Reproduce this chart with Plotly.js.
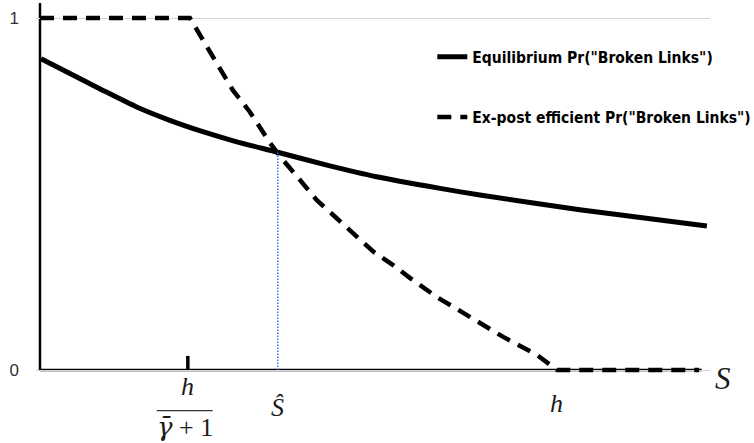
<!DOCTYPE html>
<html>
<head>
<meta charset="utf-8">
<script src="https://cdn.plot.ly/plotly-3.0.1.min.js"></script>
<style>html,body{margin:0;padding:0;background:#fff;}#chart{width:754px;height:443px;}</style>
</head>
<body>
<div id="chart"></div>
<script>
// ---- data (S measured in units of h; h = 1) ----
const seriesNames = ['Equilibrium Pr("Broken Links")', 'Ex-post efficient Pr("Broken Links")'];
const eqS   = [0.002, 0.057, 0.121, 0.186, 0.250, 0.315, 0.379, 0.456, 0.555, 0.651, 0.774, 0.851, 1.044, 1.290];
const eqPr  = [0.884, 0.843, 0.795, 0.748, 0.710, 0.677, 0.649, 0.620, 0.582, 0.549, 0.516, 0.497, 0.455, 0.409];
const effS  = [0.000, 0.290, 0.373, 0.406, 0.445, 0.4675, 0.503, 0.535, 0.574, 0.613, 0.645, 0.683, 0.716, 0.768, 0.832, 0.896, 0.961, 1.000, 1.275];
const effPr = [1.000, 1.000, 0.795, 0.733, 0.645, 0.601, 0.540, 0.483, 0.431, 0.379, 0.336, 0.298, 0.261, 0.207, 0.151, 0.094, 0.043, 0.000, 0.000];
const hVal = 1.0;            // h
const hOverGamma = 0.286;    // h / (gamma_bar + 1)
const sHat = 0.460;          // S-hat (crossing point)
const sHatPr = 0.619;        // Pr at crossing
const yTickVals = [0, 1];
const yTickText = ['0', '1'];
const xAxisEnd = 1.28;
const yAxisTop = 1.0426;

const mathFont = {family: '"Liberation Serif", "DejaVu Serif", serif', size: 26, color: '#1a1a1a'};

const traces = [
  {x: eqS, y: eqPr, type: 'scatter', mode: 'lines', name: seriesNames[0],
   line: {color: '#000', width: 5, shape: 'spline', smoothing: 0.6}, legendgroup: 'a'},
  {x: effS, y: effPr, type: 'scatter', mode: 'lines', name: seriesNames[1],
   line: {color: '#000', width: 4.5, dash: '14px,9px'}, legendgroup: 'b'},
  {x: [sHat, sHat], y: [0, sHatPr], type: 'scatter', mode: 'lines', showlegend: false,
   line: {color: '#2a6ee0', width: 1.4, dash: '1.5px,1.5px'}, hoverinfo: 'skip'}
];

const layout = {
  width: 754, height: 443,
  margin: {l: 36, r: 44, t: 3, b: 68, autoexpand: false},
  paper_bgcolor: '#fff', plot_bgcolor: '#fff',
  showlegend: true,
  legend: {x: 0.588, y: 0.9, xanchor: 'left', yanchor: 'top',
           bgcolor: 'rgba(0,0,0,0)', traceorder: 'grouped', tracegroupgap: 37,
           font: {family: '"DejaVu Sans Condensed", "DejaVu Sans", sans-serif', size: 15.5, weight: 'bold', color: '#000'}},
  xaxis: {range: [-0.0077, 1.296], showgrid: false, zeroline: false, showline: false,
          showticklabels: false, ticks: ''},
  yaxis: {range: [-0.0142, 1.0426], showgrid: true, gridcolor: '#d4d4d4', gridwidth: 1,
          zeroline: false, showline: false, tickvals: yTickVals, ticktext: yTickText, ticks: '',
          ticklabelstandoff: 16,
          tickfont: {family: '"Liberation Sans", "Open Sans", sans-serif', size: 17, color: '#333'}},
  shapes: [
    {type: 'line', xref: 'x', yref: 'y', x0: 0, x1: 0, y0: 0, y1: yAxisTop, line: {color: '#000', width: 2.5}, layer: 'below'},
    {type: 'line', xref: 'x', yref: 'y', x0: 0, x1: xAxisEnd, y0: 0, y1: 0, line: {color: '#000', width: 2.5}, layer: 'below'},
    {type: 'line', xref: 'x', yref: 'y', x0: hOverGamma, x1: hOverGamma, y0: 0, y1: 0.04, line: {color: '#000', width: 3.5}},
    {type: 'line', xref: 'x', yref: 'paper', x0: hOverGamma - 0.060, x1: hOverGamma + 0.048, y0: -0.096, y1: -0.096, line: {color: '#333', width: 1.2}}
  ],
  annotations: [
    {xref: 'x', yref: 'paper', x: hOverGamma, y: -0.032, text: '<i>h</i>', showarrow: false, font: mathFont, yanchor: 'middle'},
    {xref: 'x', yref: 'paper', x: hOverGamma - 0.006, y: -0.14,
     text: '<span style="font-family:\'DejaVu Serif\'"><i>γ̄</i></span> + 1', showarrow: false, font: mathFont, yanchor: 'middle'},
    {xref: 'x', yref: 'paper', x: sHat, y: -0.087, text: '<i>Ŝ</i>', showarrow: false, font: mathFont, yanchor: 'middle'},
    {xref: 'x', yref: 'paper', x: hVal, y: -0.077, text: '<i>h</i>', showarrow: false, font: mathFont, yanchor: 'middle'},
    {xref: 'paper', yref: 'paper', x: 1.034, y: -0.01, text: '<i>S</i>', showarrow: false,
     font: {family: '"Liberation Serif", "DejaVu Serif", serif', size: 31, color: '#1a1a1a'}, yanchor: 'middle'}
  ]
};

Plotly.newPlot('chart', traces, layout, {displayModeBar: false, staticPlot: true});
</script>
</body>
</html>
